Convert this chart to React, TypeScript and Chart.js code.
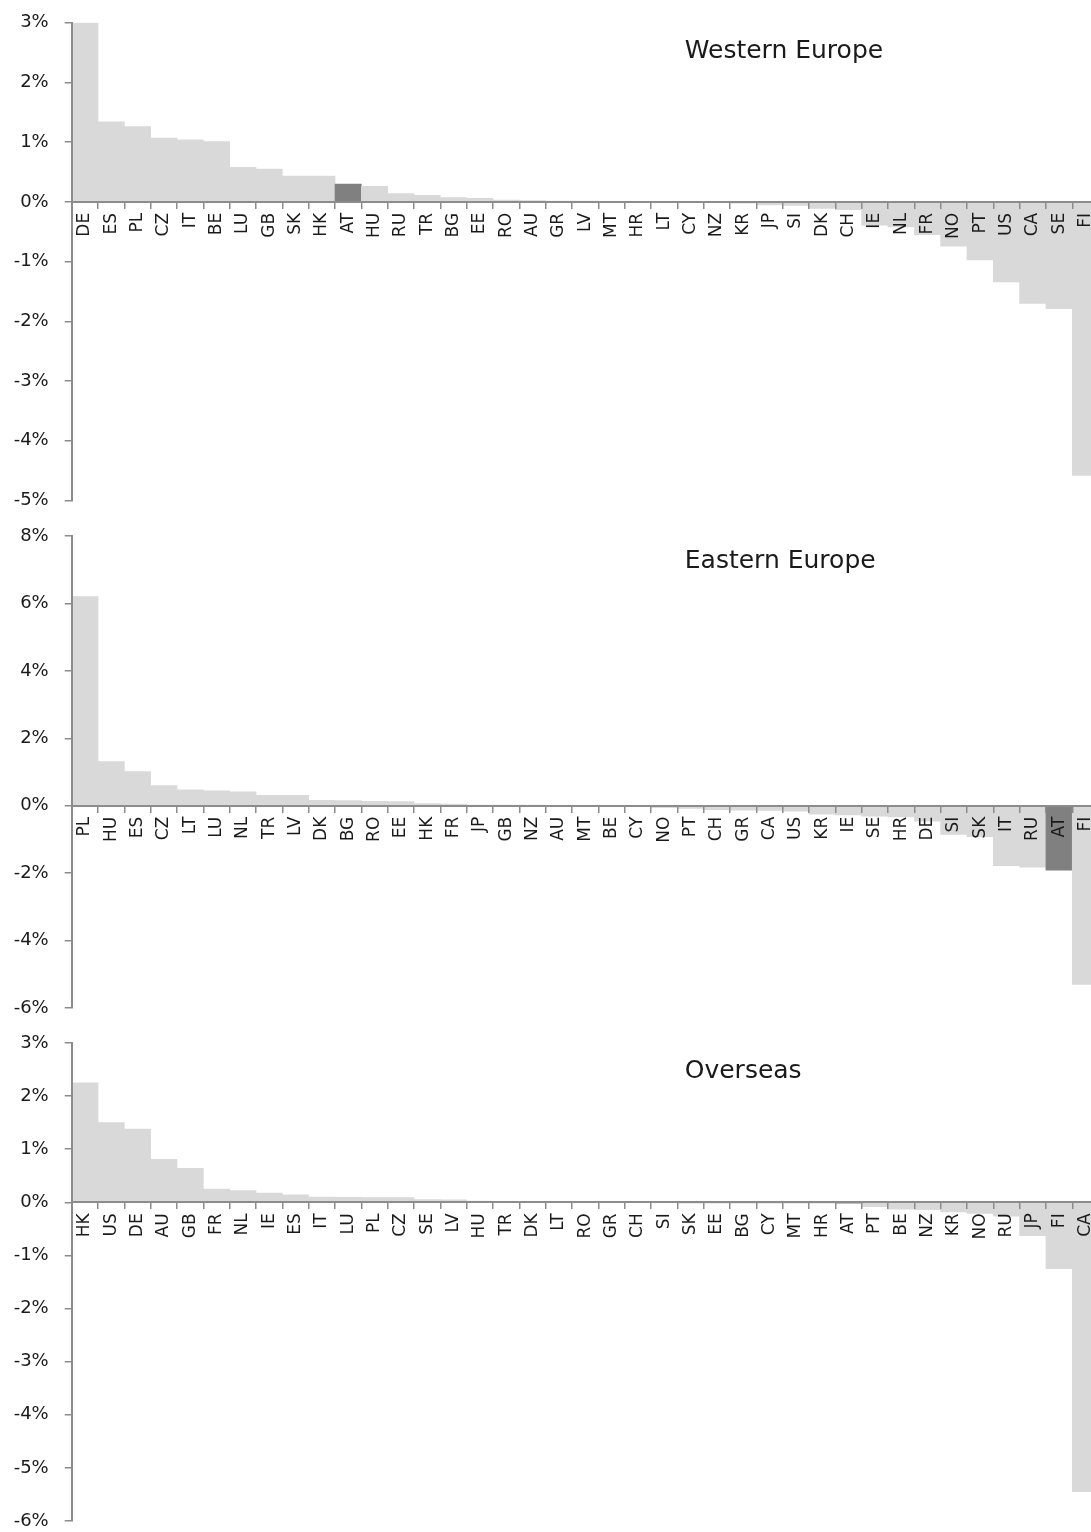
import React, { useEffect, useRef } from "react";
import { Chart, registerables } from "chart.js";

Chart.register(...registerables);

// ---------- data ----------
const westernCategories = ["DE","ES","PL","CZ","IT","BE","LU","GB","SK","HK","AT","HU","RU","TR","BG","EE","RO","AU","GR","LV","MT","HR","LT","CY","NZ","KR","JP","SI","DK","CH","IE","NL","FR","NO","PT","US","CA","SE","FI"];
const westernValues = [3.0,1.34,1.26,1.07,1.04,1.01,0.58,0.55,0.43,0.43,0.3,0.26,0.14,0.11,0.07,0.06,0.03,0.02,0.01,0.005,-0.005,-0.005,-0.01,-0.01,-0.01,-0.02,-0.05,-0.06,-0.11,-0.13,-0.39,-0.42,-0.55,-0.74,-0.97,-1.34,-1.7,-1.79,-4.58];

const easternCategories = ["PL","HU","ES","CZ","LT","LU","NL","TR","LV","DK","BG","RO","EE","HK","FR","JP","GB","NZ","AU","MT","BE","CY","NO","PT","CH","GR","CA","US","KR","IE","SE","HR","DE","SI","SK","IT","RU","AT","FI"];
const easternValues = [6.2,1.31,1.01,0.6,0.47,0.44,0.41,0.31,0.31,0.16,0.15,0.13,0.12,0.06,0.05,0.01,0.005,0.003,-0.01,-0.015,-0.02,-0.03,-0.06,-0.08,-0.12,-0.13,-0.14,-0.16,-0.25,-0.27,-0.31,-0.33,-0.46,-0.85,-0.92,-1.78,-1.82,-1.91,-5.3];

const overseasCategories = ["HK","US","DE","AU","GB","FR","NL","IE","ES","IT","LU","PL","CZ","SE","LV","HU","TR","DK","LT","RO","GR","CH","SI","SK","EE","BG","CY","MT","HR","AT","PT","BE","NZ","KR","NO","RU","JP","FI","CA"];
const overseasValues = [2.25,1.5,1.38,0.81,0.64,0.25,0.22,0.175,0.14,0.1,0.095,0.09,0.09,0.05,0.045,0.025,0.02,0.015,0.01,0.005,0.003,0.002,0,-0.002,-0.003,-0.005,-0.008,-0.01,-0.012,-0.015,-0.08,-0.13,-0.14,-0.18,-0.21,-0.26,-0.63,-1.25,-5.45];

const panelTitles = ["Western Europe", "Eastern Europe", "Overseas"];
const yRanges = [
  { min: -5, max: 3, step: 1 },
  { min: -6, max: 8, step: 2 },
  { min: -6, max: 3, step: 1 },
];
const highlightCategory = "AT";

// ---------- styling ----------
const FONT = "'DejaVu Sans', sans-serif";
const AXIS_COLOR = "#8c8c8c";
const BAR_COLOR = "#d9d9d9";
const HIGHLIGHT_COLOR = "#808080";
const TEXT_COLOR = "#1a1a1a";
const CANVAS_WIDTH = 1110;
const AXIS_LEFT = 71.7;
const PAD_RIGHT = 11.4;

const panelTitlePlugin = {
  id: "panelTitle",
  afterDraw(chart: any, _args: any, opts: any) {
    const { ctx, chartArea } = chart;
    ctx.save();
    ctx.font = `25px ${FONT}`;
    ctx.fillStyle = TEXT_COLOR;
    ctx.textBaseline = "middle";
    ctx.textAlign = "left";
    ctx.fillText(opts.text, chartArea.left + chartArea.width * 0.597, chartArea.top + opts.offset);
    ctx.restore();
  },
};

type PanelProps = {
  title: string;
  titleOffset: number;
  categories: string[];
  values: number[];
  min: number;
  max: number;
  step: number;
  top: number;
  height: number;
  padTop: number;
  padBottom: number;
};

function Panel(p: PanelProps) {
  const ref = useRef<HTMLCanvasElement | null>(null);
  useEffect(() => {
    if (!ref.current) return;
    const chart = new Chart(ref.current, {
      type: "bar",
      data: {
        labels: p.categories,
        datasets: [
          {
            data: p.values,
            backgroundColor: p.categories.map((c) => (c === highlightCategory ? HIGHLIGHT_COLOR : BAR_COLOR)),
            borderWidth: 0,
            barPercentage: 1,
            categoryPercentage: 1,
          },
        ],
      },
      options: {
        responsive: false,
        animation: false,
        layout: { padding: { top: p.padTop, bottom: p.padBottom, left: 0, right: PAD_RIGHT } },
        plugins: {
          legend: { display: false },
          tooltip: { enabled: false },
          panelTitle: { text: p.title, offset: p.titleOffset },
        } as any,
        scales: {
          x: {
            position: { y: 0 } as any,
            grid: {
              display: true,
              drawOnChartArea: false,
              drawTicks: true,
              tickLength: 6,
              color: AXIS_COLOR,
              lineWidth: 1.5,
              offset: true,
              z: 1,
            },
            border: { display: true, color: AXIS_COLOR, width: 2, z: 1 },
            ticks: {
              autoSkip: false,
              maxRotation: 90,
              minRotation: 90,
              padding: 5,
              color: TEXT_COLOR,
              font: { family: FONT, size: 17 },
              z: 1,
            },
            afterFit: (s: any) => {
              s.height = 0;
              s.paddingLeft = 0;
              s.paddingRight = 0;
            },
          },
          y: {
            min: p.min,
            max: p.max,
            grid: {
              display: true,
              drawOnChartArea: false,
              drawTicks: true,
              tickLength: 7,
              color: AXIS_COLOR,
              lineWidth: 1.5,
            },
            border: { display: true, color: AXIS_COLOR, width: 2, z: 1 },
            ticks: {
              stepSize: p.step,
              padding: 16,
              color: TEXT_COLOR,
              font: { family: FONT, size: 18 },
              callback: (v: any) => `${v}%`,
            },
            afterFit: (s: any) => {
              s.width = AXIS_LEFT;
              s.paddingTop = 0;
              s.paddingBottom = 0;
            },
          },
        },
      },
      plugins: [panelTitlePlugin],
    });
    return () => chart.destroy();
  }, []);
  return (
    <canvas
      ref={ref}
      width={CANVAS_WIDTH}
      height={p.height}
      style={{ position: "absolute", left: 0, top: p.top, width: CANVAS_WIDTH, height: p.height }}
    />
  );
}

export default function App() {
  const layouts = [
    { top: 0, height: 512, padTop: 22.7, padBottom: 11.5, titleOffset: 29 },
    { top: 512, height: 509, padTop: 24, padBottom: 13, titleOffset: 25 },
    { top: 1021, height: 511, padTop: 22, padBottom: 11, titleOffset: 28 },
  ];
  const cats = [westernCategories, easternCategories, overseasCategories];
  const vals = [westernValues, easternValues, overseasValues];
  return (
    <div style={{ position: "fixed", left: 0, top: 0, width: 1091, height: 1532, overflow: "hidden", background: "#fff" }}>
      {layouts.map((l, i) => (
        <Panel
          key={i}
          title={panelTitles[i]}
          categories={cats[i]}
          values={vals[i]}
          min={yRanges[i].min}
          max={yRanges[i].max}
          step={yRanges[i].step}
          {...l}
        />
      ))}
    </div>
  );
}
